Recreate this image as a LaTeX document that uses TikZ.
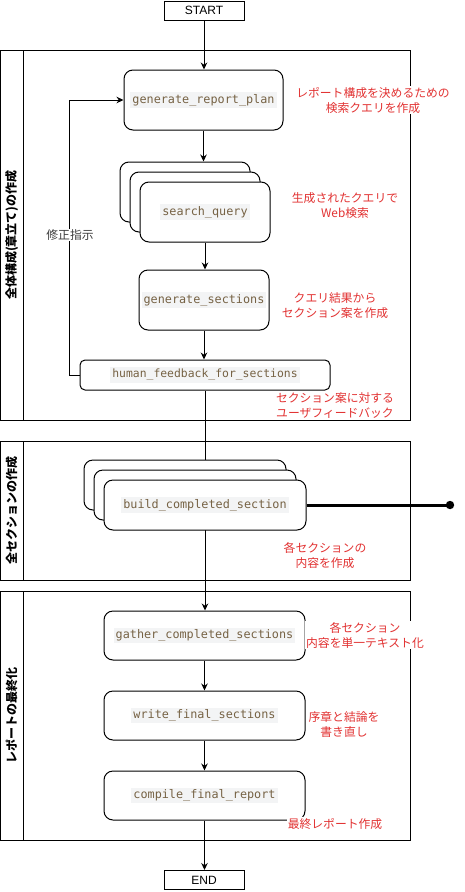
\documentclass[tikz,border=0pt]{standalone}
\usepackage{fontspec}
\setmainfont{Liberation Sans}
\newfontfamily\jp{Noto Sans CJK JP}
\newfontfamily\mono{DejaVu Sans Mono}
\usetikzlibrary{arrows.meta}
\definecolor{codefg}{RGB}{118,98,68}
\definecolor{codebg}{RGB}{243,244,245}
\definecolor{notecol}{RGB}{226,50,50}
\definecolor{fbcol}{RGB}{60,60,60}
\newcommand{\codetext}[2][11.8]{{\setlength{\fboxsep}{2pt}\colorbox{codebg}{\fontsize{#1}{14}\mono\color{codefg}#2}}}
\begin{document}
\begin{tikzpicture}[x=1pt,y=-1pt,
  cont/.style={draw, line width=1pt},
  termbox/.style={draw, line width=1pt, fill=white, minimum width=80pt, minimum height=19pt, inner sep=0pt, font=\fontsize{12}{14}\selectfont},
  rbox/.style={draw, line width=1pt, fill=white, rounded corners=9pt, inner sep=0pt},
  arr/.style={draw, line width=1pt, -{Stealth[length=7pt,width=6.5pt]}},
  note/.style={fill=white, inner sep=1pt, align=center, text=notecol, font=\jp\fontsize{11.8}{15}\selectfont},
  hdr/.style={rotate=90, inner sep=0pt, font=\jp\bfseries\fontsize{12}{14}\selectfont},
  fbl/.style={fill=white, inner sep=1pt, text=fbcol, font=\jp\fontsize{11.8}{14}\selectfont}]
\useasboundingbox (0,0) rectangle (464,892);
% containers
\draw[cont] (0.5,50) rectangle (410,420);
\draw[cont] (23,50) -- (23,420);
\draw[cont] (0.5,441) rectangle (410,580);
\draw[cont] (23,441) -- (23,580);
\draw[cont] (0.5,591) rectangle (410,840);
\draw[cont] (23,591) -- (23,840);
\node[hdr] (h1) at (11.5,235) {全体構成(章立て)の作成};
\node[hdr] (h2) at (11.5,510.5) {全セクションの作成};
\node[hdr] (h3) at (11.5,715.5) {レポートの最終化};
% nodes
\node[termbox] (start) at (204,10.5) {START};
\node[rbox, minimum width=159pt, minimum height=60pt] (plan) at (203.5,100) {\codetext{generate\_report\_plan}};
\node[rbox, minimum width=130pt, minimum height=60pt] (sqa) at (185,192) {};
\node[rbox, minimum width=130pt, minimum height=60pt] (sqb) at (195,202) {};
\node[rbox, minimum width=130pt, minimum height=60pt] (sq) at (205,212) {\codetext{search\_query}};
\node[rbox, minimum width=130pt, minimum height=60pt] (gs) at (204,300) {\codetext{generate\_sections}};
\node[rbox, rounded corners=5pt, minimum width=250pt, minimum height=30pt] (hf) at (205,375) {\codetext[11.4]{human\_feedback\_for\_sections}};
\node[rbox, minimum width=201pt, minimum height=49pt] (gather) at (204.5,635.5) {\codetext{gather\_completed\_sections}};
\node[rbox, minimum width=201pt, minimum height=49pt] (write) at (204.5,715.5) {\codetext{write\_final\_sections}};
\node[rbox, minimum width=201pt, minimum height=49pt] (compile) at (204.5,795.5) {\codetext{compile\_final\_report}};
\node[termbox] (end) at (204,880) {END};
% connector passing behind the build stack
\draw[arr] (hf.south) -- (hf.south |- gather.north);
\node[rbox, minimum width=202pt, minimum height=50pt] (bca) at (185,485) {};
\node[rbox, minimum width=202pt, minimum height=50pt] (bcb) at (195,495) {};
\node[rbox, minimum width=202pt, minimum height=50pt] (bc) at (205,505) {\codetext{build\_completed\_section}};
\coordinate (dotend) at (450,505);
\draw[line width=3pt] (bc.east) -- (dotend);
\fill (dotend) circle (4.2pt);
% connectors
\draw[arr] (start.south) -- (start.south |- plan.north);
\draw[arr] (plan.south) -- (plan.south |- sqa.north);
\draw[arr] (sq.south) -- (sq.south |- gs.north);
\draw[arr] (gs.south) -- (gs.south |- hf.north);
\draw[arr] (hf.west) -- ++(-10,0) |- (plan.west);
\node[fbl] (fb) at (70,235) {修正指示};
\draw[arr] (gather.south) -- (gather.south |- write.north);
\draw[arr] (write.south) -- (write.south |- compile.north);
\draw[arr] (compile.south) -- (compile.south |- end.north);
% notes
\node[note] (n1) at (373,100) {レポート構成を決めるための\\検索クエリを作成};
\node[note] (n2) at (345,206) {生成されたクエリで\\Web検索};
\node[note] (n3) at (335,305.5) {クエリ結果から\\セクション案を作成};
\node[note] (n4) at (335,405) {セクション案に対する\\ユーザフィードバック};
\node[note] (n5) at (325,555.5) {各セクションの\\内容を作成};
\node[note] (n6) at (365,635) {各セクション\\内容を単一テキスト化};
\node[note] (n7) at (344,725) {序章と結論を\\書き直し};
\node[note] (n8) at (335,824) {最終レポート作成};
\end{tikzpicture}
\end{document}
